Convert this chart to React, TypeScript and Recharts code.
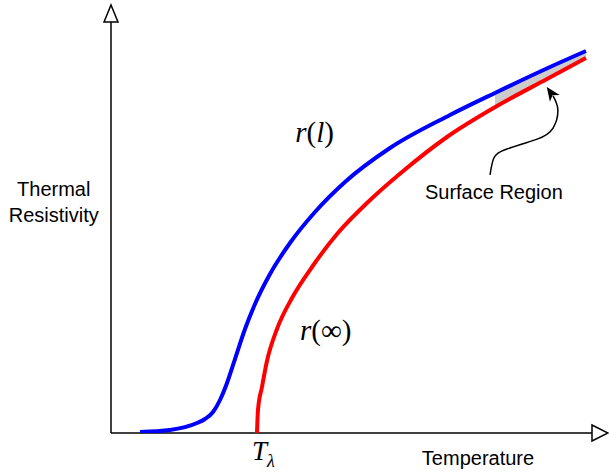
import { ComposedChart, Line, Area, XAxis, YAxis, ReferenceDot, ReferenceLine } from "recharts";

// temperature (0-100) vs resistivity (0-100), arbitrary units
const lengthT = [6.03, 12.27, 17.88, 19.54, 21.21, 22.66, 24.12, 25.78, 27.86, 29.94, 33.06, 37.21, 42.41, 48.65, 58.0, 70.48, 79.83, 91.27, 98.75];
const lengthR = [0.24, 0.73, 2.43, 3.41, 5.11, 8.03, 12.17, 18.0, 25.3, 31.39, 38.69, 46.23, 53.77, 61.07, 69.34, 77.37, 82.73, 89.05, 92.94];

const bulkT = [30.35, 30.56, 31.39, 32.43, 34.51, 37.63, 41.79, 46.99, 53.22, 60.5, 69.85, 80.25, 90.64, 98.75];
const bulkR = [0, 5.6, 11.19, 17.52, 25.3, 32.85, 40.39, 48.42, 55.96, 63.5, 72.02, 79.56, 86.13, 91.24];

const bandT = [79.83, 85.03, 91.27, 98.75];
const bandLow = [79.27, 82.6, 86.5, 91.24];
const bandHigh = [82.73, 85.6, 89.05, 92.94];

const arrowT = [78.8, 79.6, 82.3, 88.6, 91.9, 92.9, 91.9];
const arrowR = [62.8, 66.9, 69.1, 71.5, 74.2, 78.6, 82.0];
const arrowTip = { t: 90.6, r: 84.2 };

const lengthData = lengthT.map((t, i) => ({ t, r: lengthR[i] }));
const bulkData = bulkT.map((t, i) => ({ t, r: bulkR[i] }));
const bandData = bandT.map((t, i) => ({ t, range: [bandLow[i], bandHigh[i]] }));
const arrowData = arrowT.map((t, i) => ({ t, r: arrowR[i] }));

const sans = "Liberation Sans, Arial, Helvetica, sans-serif";
const serif = "Liberation Serif, Times New Roman, serif";

const xHead = (p: any) => (
  <polygon
    points={`${p.cx},${p.cy - 8} ${p.cx + 16},${p.cy} ${p.cx},${p.cy + 8}`}
    fill="#fff"
    stroke="#000"
    strokeWidth={1.5}
  />
);

const yHead = (p: any) => (
  <polygon
    points={`${p.cx - 7},${p.cy} ${p.cx},${p.cy - 17} ${p.cx + 7},${p.cy}`}
    fill="#fff"
    stroke="#000"
    strokeWidth={1.5}
  />
);

const stealth = (p: any) => (
  <polygon
    points="0,0 -14,-6 -10,0 -14,6"
    fill="#000"
    transform={`translate(${p.cx},${p.cy}) rotate(-125)`}
  />
);

const rLength = (p: any) => (
  <text x={p.cx} y={p.cy} fontFamily={serif} fontSize={29} fill="#000">
    <tspan fontStyle="italic">r</tspan>(<tspan fontStyle="italic">l</tspan>)
  </text>
);

const rInf = (p: any) => (
  <text x={p.cx} y={p.cy} fontFamily={serif} fontSize={29} fill="#000">
    <tspan fontStyle="italic">r</tspan>(∞)
  </text>
);

const tLambda = (p: any) => (
  <text x={p.cx} y={p.cy} fontFamily={serif} fill="#000">
    <tspan fontStyle="italic" fontSize={27}>T</tspan>
    <tspan fontStyle="italic" fontSize={18} dy={7}>λ</tspan>
  </text>
);

const surface = (p: any) => (
  <text x={p.cx} y={p.cy} textAnchor="middle" fontFamily={sans} fontSize={20} fill="#000">
    Surface Region
  </text>
);

const tempTitle = (p: any) => (
  <text x={p.cx} y={p.cy} textAnchor="middle" fontFamily={sans} fontSize={20} fill="#000">
    Temperature
  </text>
);

const resTitle = (p: any) => (
  <text x={p.cx} y={p.cy} textAnchor="middle" fontFamily={sans} fontSize={20} fill="#000">
    <tspan x={p.cx}>Thermal</tspan>
    <tspan x={p.cx} dy={26}>Resistivity</tspan>
  </text>
);

export default function App() {
  return (
    <div style={{ position: "absolute", left: 0, top: 0, background: "#fff" }}>
      <ComposedChart width={609} height={475} margin={{ top: 22, right: 17, bottom: 42, left: 111 }}>
        <XAxis dataKey="t" type="number" domain={[0, 100]} allowDataOverflow height={0} tick={false} tickLine={false} axisLine={false} />
        <YAxis type="number" domain={[0, 100]} allowDataOverflow width={0} tick={false} tickLine={false} axisLine={false} />
        <ReferenceLine segment={[{ x: 0, y: 0 }, { x: 100, y: 0 }]} stroke="#000" strokeWidth={1.5} ifOverflow="visible" />
        <ReferenceLine segment={[{ x: 0, y: 0 }, { x: 0, y: 100 }]} stroke="#000" strokeWidth={1.5} ifOverflow="visible" />
        <Area
          data={bandData}
          dataKey="range"
          type="monotone"
          fill="#cccccc"
          fillOpacity={1}
          stroke="none"
          isAnimationActive={false}
        />
        <Line data={bulkData} dataKey="r" type="monotone" stroke="#ff0000" strokeWidth={4} dot={false} isAnimationActive={false} />
        <Line data={lengthData} dataKey="r" type="monotone" stroke="#0000ff" strokeWidth={4} dot={false} isAnimationActive={false} />
        <Line data={arrowData} dataKey="r" type="natural" stroke="#000" strokeWidth={1.5} dot={false} isAnimationActive={false} />
        <ReferenceDot x={arrowTip.t} y={arrowTip.r} ifOverflow="visible" shape={stealth} />
        <ReferenceDot x={100} y={0} ifOverflow="visible" shape={xHead} />
        <ReferenceDot x={0} y={100} ifOverflow="visible" shape={yHead} />
        <ReferenceDot x={38.3} y={70.8} ifOverflow="visible" shape={rLength} />
        <ReferenceDot x={39.3} y={22.6} ifOverflow="visible" shape={rInf} />
        <ReferenceDot x={29.3} y={-6.6} ifOverflow="visible" shape={tLambda} />
        <ReferenceDot x={79.6} y={56.9} ifOverflow="visible" shape={surface} />
        <ReferenceDot x={76.3} y={-7.8} ifOverflow="visible" shape={tempTitle} />
        <ReferenceDot x={-11.9} y={57.7} ifOverflow="visible" shape={resTitle} />
      </ComposedChart>
    </div>
  );
}
